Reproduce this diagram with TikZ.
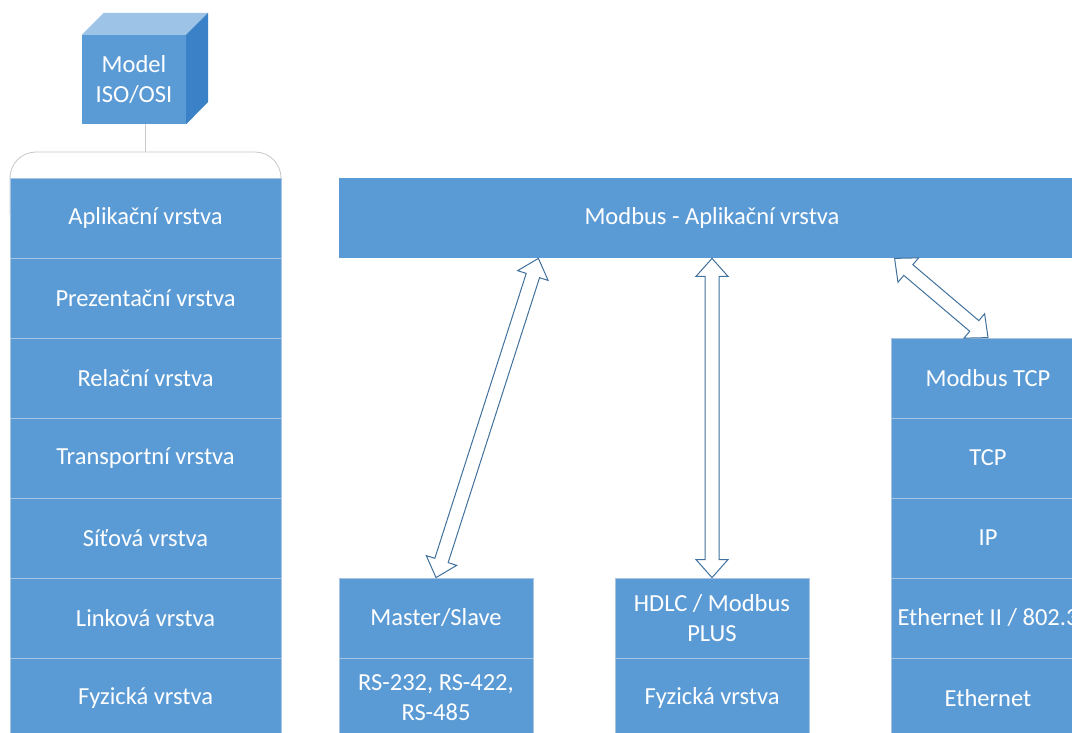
\documentclass[tikz,border=0pt]{standalone}
\usepackage{fontspec}
\setmainfont{Carlito}
\usetikzlibrary{calc}
\definecolor{layer}{HTML}{5B9BD5}
\definecolor{layersep}{HTML}{A9C4E0}
\definecolor{cubetop}{HTML}{9DC3E6}
\definecolor{cubeside}{HTML}{3A81C7}
\definecolor{arrowline}{HTML}{41719C}
\definecolor{linkgray}{HTML}{C8C8C8}

% hollow double-headed arrow between two named points
\newcommand\hollowarrow[2]{%
  \coordinate (h1) at ($(#1)!18pt!(#2)$);
  \coordinate (h2) at ($(#2)!18pt!(#1)$);
  \draw[hollow] (#1) -- ($(h1)!16pt!-90:(#2)$) -- ($(h1)!7pt!-90:(#2)$)
    -- ($(h2)!7pt!90:(#1)$) -- ($(h2)!16pt!90:(#1)$) -- (#2)
    -- ($(h2)!16pt!-90:(#1)$) -- ($(h2)!7pt!-90:(#1)$)
    -- ($(h1)!7pt!90:(#2)$) -- ($(h1)!16pt!90:(#2)$) -- cycle;
}

\tikzset{
  layerbox/.style={draw=layersep, line width=0.8pt, fill=layer, text=white,
    minimum width=#1, minimum height=80pt, inner sep=0pt, align=center},
  hollow/.style={draw=arrowline, fill=white, line width=1pt, line join=miter},
  link/.style={draw=linkgray, line width=0.8pt},
}

\begin{document}
\begin{tikzpicture}[x=1pt, y=-1pt, font=\fontsize{24.5}{30}\selectfont]
\useasboundingbox (0,0) rectangle (1072,733);
\clip (0,0) rectangle (1072,733);

% cube for the reference model
\node[fill=layer, text=white, minimum width=104pt, minimum height=89pt,
      inner sep=0pt, align=center] (model) at (134,79.5) {Model\\ISO/OSI};
\fill[cubetop] (model.north west) -- ++(22,-22) -- ++(104,0) -- (model.north east) -- cycle;
\fill[cubeside] (model.north east) -- ++(22,-22) -- ++(0,89) -- (model.south east) -- cycle;

% rounded cap above the OSI column
\coordinate (brk) at (145.5,152);
\draw[link, fill=white, rounded corners=26pt] (10,215) |- (281,152) -- (281,215);
\draw[link] (model.south -| brk) -- (brk);

% OSI layers
\node[layerbox=271pt] (l7) at (145.5,218) {Aplikační vrstva};
\node[layerbox=271pt] (l6) at (145.5,298) {Prezentační vrstva};
\node[layerbox=271pt] (l5) at (145.5,378) {Relační vrstva};
\node[layerbox=271pt] (l4) at (145.5,458) {Transportní vrstva};
\node[layerbox=271pt] (l3) at (145.5,538) {Síťová vrstva};
\node[layerbox=271pt] (l2) at (145.5,618) {Linková vrstva};
\node[layerbox=271pt] (l1) at (145.5,698) {Fyzická vrstva};

% Modbus application layer
\node[layerbox=746pt, draw=none] (app) at (712,218) {Modbus - Aplikační vrstva};

% serial line stack
\node[layerbox=194pt] (ms) at (436,618) {Master/Slave};
\node[layerbox=194pt] (rs) at (436,698) {RS-232, RS-422,\\RS-485};

% Modbus Plus stack
\node[layerbox=194pt] (hd) at (712,618) {HDLC / Modbus\\PLUS};
\node[layerbox=194pt] (hdphy) at (712,698) {Fyzická vrstva};

% Modbus TCP stack
\node[layerbox=194pt] (mtcp) at (988,378) {Modbus TCP};
\node[layerbox=194pt] (tcp) at (988,458) {TCP};
\node[layerbox=194pt] (ip) at (988,538) {IP};
\node[layerbox=194pt] (eth2) at (988,618) {Ethernet II / 802.3};
\node[layerbox=194pt] (eth) at (988,698) {Ethernet};

% links between the application layer and the stacks
\coordinate (a1) at ($(ms.north east |- app.south)+(5,0)$);
\coordinate (a2) at (hd.north |- app.south);
\coordinate (a3) at ($(mtcp.north west |- app.south)+(4,0)$);
\hollowarrow{a1}{ms.north}
\hollowarrow{a2}{hd.north}
\hollowarrow{a3}{mtcp.north}
\end{tikzpicture}
\end{document}
